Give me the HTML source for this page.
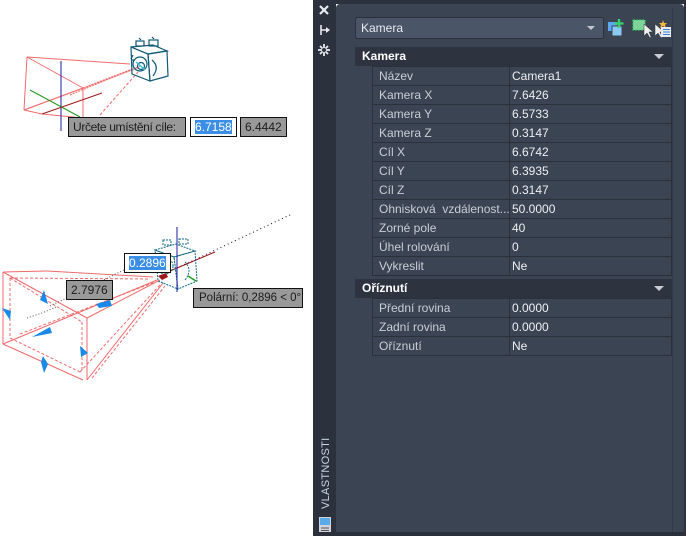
<!DOCTYPE html>
<html><head><meta charset="utf-8"><style>
html,body{margin:0;padding:0;}
body{width:686px;height:536px;position:relative;overflow:hidden;background:#fff;font-family:"Liberation Sans",sans-serif;}
.abs{position:absolute;}
.strip{left:313px;top:0;width:23px;height:536px;background:#2c323d;}
.topbar{left:313px;top:0;width:373px;height:4px;background:#2c323d;}
.main{left:336px;top:4px;width:348px;height:528px;background:#3b4453;border-radius:4px 4px 0 0;}
.bottombar{left:313px;top:532px;width:373px;height:4px;background:#2a3039;}
.rightbar{left:684px;top:0;width:2px;height:536px;background:#2c323d;}
.vsep{left:672px;top:8px;width:1px;height:524px;background:#323a47;}
.dd{left:355px;top:17px;width:242px;height:20px;background:#4a5567;border:1px solid #2b313b;border-radius:2px;color:#e6e9ee;font-size:12px;line-height:20px;padding-left:5px;box-sizing:content-box;}
.hdr{left:355px;width:317px;height:19px;background:#2e343f;color:#fff;font-weight:bold;font-size:12px;line-height:19px;}
.hdr span{position:absolute;left:7px;}
.tri{position:absolute;right:8px;top:7px;width:0;height:0;border-left:5px solid transparent;border-right:5px solid transparent;border-top:5px solid #c7ccd4;}
.row{left:372px;width:300px;height:19px;border-top:1px solid #2b313b;box-sizing:border-box;font-size:12px;color:#dfe3e9;line-height:18px;}
.row .n{position:absolute;left:7px;top:0;color:#c9ced6;white-space:nowrap;}
.row .v{position:absolute;left:140px;top:0;color:#eef0f3;}
.row .s{position:absolute;left:137px;top:-1px;width:1px;height:19px;background:#2b313b;}
.tip{background:#999;border:1px solid #111;font-size:12px;color:#1c1c1c;box-sizing:border-box;line-height:18px;white-space:nowrap;overflow:hidden;}
.inp{background:#fff;border:1px solid #111;font-size:12px;box-sizing:border-box;line-height:18px;white-space:nowrap;overflow:hidden;}
.sel{background:#3a8ee6;color:#fff;}
</style></head><body>

<svg class="abs" style="left:0;top:0" width="313" height="536" viewBox="0 0 313 536">
  <!-- top drawing -->
  <g stroke="#f26a6a" stroke-width="1" fill="none">
    <line x1="27" y1="57" x2="24" y2="110"/>
    <line x1="27" y1="57" x2="130" y2="64"/>
    <line x1="27" y1="57" x2="83" y2="88"/>
    <line x1="83" y1="88" x2="83" y2="120"/>
    <line x1="24" y1="110" x2="83" y2="88"/>
    <line x1="42" y1="114" x2="83" y2="118"/>
    <line x1="24" y1="110" x2="42" y2="114"/>
    <line x1="83" y1="88" x2="140" y2="66" stroke-dasharray="2 1"/>
    <line x1="70" y1="95" x2="140" y2="66" stroke-dasharray="2 1"/>
    <line x1="100" y1="115" x2="138" y2="72" stroke-dasharray="3 2"/>
    <line x1="24" y1="110" x2="138" y2="68" stroke-opacity="0.6"/>
  </g>
  <line x1="61" y1="61" x2="61" y2="131" stroke="#1a1aa0" stroke-width="1"/>
  <line x1="30" y1="90" x2="80" y2="117" stroke="#1d9a1d" stroke-width="1"/>
  <line x1="42" y1="114" x2="102" y2="93" stroke="#a01a1a" stroke-width="1"/>
  <g stroke="#0f5a78" stroke-width="1.2" fill="none">
    <polygon points="131,47 153,45 167,51 148,54"/>
    <polygon points="131,47 148,54 150,81 132,74"/>
    <polygon points="148,54 167,51 168,76 150,81"/>
    <circle cx="140" cy="64" r="7"/>
    <circle cx="141" cy="66" r="3.5"/>
    <path d="M152 60 q8 7 1 16"/>
    <rect x="136" y="41" width="8" height="5"/>
    <rect x="149" y="40" width="9" height="6"/>
    <path d="M139 38 l2 2 M152 37 l2 2 M133 55 l-2 4 M131 60 h4"/>
  </g>
  <line x1="136" y1="62" x2="145" y2="70" stroke="#40c0e0" stroke-width="1.5"/>

  <!-- bottom drawing -->
  <g stroke="#f26a6a" stroke-width="1" fill="none">
    <line x1="3" y1="272" x2="47" y2="271"/>
    <line x1="47" y1="271" x2="153" y2="277"/>
    <line x1="3" y1="272" x2="3" y2="344"/>
    <line x1="3" y1="344" x2="83" y2="380"/>
    <line x1="3" y1="272" x2="87" y2="318"/>
    <line x1="87" y1="318" x2="87" y2="380"/>
    <line x1="87" y1="318" x2="160" y2="280"/>
    <line x1="3" y1="344" x2="157" y2="280"/>
    <line x1="87" y1="380" x2="163" y2="283"/>
  </g>
  <g stroke="#f26a6a" stroke-width="1" fill="none" stroke-dasharray="3 2">
    <line x1="10" y1="278" x2="150" y2="279"/>
    <line x1="10" y1="278" x2="10" y2="338"/>
    <line x1="10" y1="338" x2="80" y2="372"/>
    <line x1="10" y1="278" x2="82" y2="322"/>
    <line x1="82" y1="322" x2="82" y2="372"/>
    <line x1="80" y1="372" x2="160" y2="285"/>
    <line x1="92" y1="378" x2="165" y2="286"/>
    <line x1="20" y1="334" x2="155" y2="282"/>
  </g>
  <polyline points="27,318 42,313 56,307" stroke="#555" stroke-width="1" fill="none" stroke-dasharray="1 2"/>
  <line x1="50" y1="306" x2="124" y2="270" stroke="#555" stroke-width="1" stroke-dasharray="1 2"/>
  <line x1="177" y1="268" x2="292" y2="214" stroke="#111" stroke-width="1" stroke-dasharray="1 3"/>
  <line x1="170" y1="271" x2="215" y2="252" stroke="#9a1010" stroke-width="1"/>
  <g stroke="#0f6a86" stroke-width="1" fill="none" stroke-dasharray="2 1">
    <polygon points="155,250 176,244 195,251 174,257"/>
    <polygon points="174,257 195,251 197,281 178,289"/>
    <polygon points="155,250 174,257 178,289 158,281"/>
    <circle cx="165" cy="266" r="8"/>
    <circle cx="166" cy="268" r="4"/>
    <path d="M185 262 q8 8 0 18"/>
    <rect x="163" y="240" width="8" height="5"/>
    <rect x="179" y="239" width="9" height="5"/>
  </g>
  <line x1="177" y1="227" x2="177" y2="292" stroke="#1a1aa0" stroke-width="1"/>
  <line x1="188" y1="276" x2="196" y2="281" stroke="#1da01d" stroke-width="1.5"/>
  <path d="M158 276 l8 -3 l2 4 l-6 3z" fill="#a01a1a"/>
  <g fill="#1b8ae6">
    <polygon points="44,290 48,304 40,300"/>
    <polygon points="2,308 11,311 10,320"/>
    <polygon points="32,337 50,327 52,333"/>
    <polygon points="80,346 88,353 81,357"/>
    <polygon points="43,356 48,364 44,373 41,362"/>
    <polygon points="96,304 110,300 112,306 99,308"/>
  </g>
</svg>

<!-- canvas tooltips -->
<div class="abs tip" style="left:68px;top:117px;width:118px;height:20px;padding-left:4px;font-size:12px;letter-spacing:-0.35px;">Určete umístění cíle:</div>
<div class="abs inp" style="left:190px;top:117px;width:47px;height:20px;padding-left:4px;"><span class="sel">6.7158</span></div>
<div class="abs tip" style="left:240px;top:117px;width:47px;height:20px;padding-left:4px;">6.4442</div>
<div class="abs inp" style="left:124px;top:253px;width:47px;height:20px;padding-left:4px;"><span class="sel">0.2896</span></div>
<div class="abs tip" style="left:66px;top:280px;width:47px;height:20px;padding-left:4px;">2.7976</div>
<div class="abs tip" style="left:193px;top:288px;width:110px;height:20px;padding-left:5px;font-size:11.5px;">Polární: 0,2896 &lt; 0°</div>

<!-- panel -->
<div class="abs strip"></div>
<div class="abs topbar"></div>
<div class="abs main"></div>
<div class="abs bottombar"></div>
<div class="abs rightbar"></div>
<div class="abs vsep"></div>

<!-- strip icons -->
<svg class="abs" style="left:313px;top:0" width="23" height="536">
  <g stroke="#e8ebef" stroke-width="2.2"><line x1="7" y1="6" x2="15" y2="14"/><line x1="15" y1="6" x2="7" y2="14"/></g>
  <g stroke="#e8ebef" stroke-width="1.6" fill="none"><path d="M8 25 v10 M8 30 h7"/></g>
  <polygon points="13,27 17,30 13,33" fill="#e8ebef"/>
  <g stroke="#e8ebef" stroke-width="1.8"><line x1="11" y1="44" x2="11" y2="56"/><line x1="5" y1="50" x2="17" y2="50"/><line x1="7" y1="46" x2="15" y2="54"/><line x1="15" y1="46" x2="7" y2="54"/></g>
  <circle cx="11" cy="50" r="2" fill="#2c323d"/>
  <text transform="translate(16,509) rotate(-90)" font-family="Liberation Sans, sans-serif" font-size="11" fill="#c9d6e6" letter-spacing="0.3">VLASTNOSTI</text>
  <rect x="6" y="517" width="12" height="15" fill="#d0d4da"/>
  <rect x="7" y="518" width="10" height="7" fill="#5aaae8"/>
  <g stroke="#555" stroke-width="1"><line x1="8" y1="528" x2="16" y2="528"/><line x1="8" y1="530.5" x2="16" y2="530.5"/></g>
</svg>

<div class="abs dd">Kamera</div>
<div class="abs" style="left:587px;top:26px;width:0;height:0;border-left:4px solid transparent;border-right:4px solid transparent;border-top:4px solid #c3c8d0;"></div>

<!-- toolbar icons -->
<svg class="abs" style="left:604px;top:14px" width="70" height="26">
  <rect x="4" y="8" width="9" height="9" fill="#5aa9ee"/>
  <rect x="8" y="12" width="10" height="10" fill="#8cc8f4" stroke="#3b4453" stroke-width="1"/>
  <g stroke="#3ecf6a" stroke-width="2.4"><line x1="15" y1="5" x2="15" y2="14"/><line x1="10.5" y1="9.5" x2="19.5" y2="9.5"/></g>
  <rect x="29" y="6" width="12" height="10" fill="#7ed49a" stroke="#3ecf6a" stroke-dasharray="2 1"/>
  <polygon points="40,10 40,22 43,19 46,24 47,23 45,18 49,18" fill="#f0f0f0" stroke="#333" stroke-width="0.5"/>
  <polygon points="51,10 51,22 54,19 57,24 58,23 56,18 60,18" fill="#f0f0f0" stroke="#333" stroke-width="0.5"/>
  <polygon points="59,6 60,9 63,9 61,11 62,14 59,12 56,14 57,11 55,9 58,9" fill="#f4b840"/>
  <rect x="57" y="13" width="10" height="10" fill="#e8ecf2"/>
  <g stroke="#3a7fd0" stroke-width="1"><line x1="59" y1="15.5" x2="66" y2="15.5"/><line x1="59" y1="18" x2="66" y2="18"/><line x1="59" y1="20.5" x2="66" y2="20.5"/></g>
</svg>

<!-- Kamera header -->
<div class="abs hdr" style="top:47px;"><span>Kamera</span><div class="tri"></div></div>
<div class="abs" style="left:372px;top:66px;width:1px;height:210px;background:#2b313b;"></div>
<div class="abs" style="left:671px;top:66px;width:1px;height:210px;background:#2b313b;"></div>
<div class="abs row" style="top:66px;"><span class="n">Název</span><div class="s"></div><span class="v">Camera1</span></div>
<div class="abs row" style="top:85px;"><span class="n">Kamera X</span><div class="s"></div><span class="v">7.6426</span></div>
<div class="abs row" style="top:104px;"><span class="n">Kamera Y</span><div class="s"></div><span class="v">6.5733</span></div>
<div class="abs row" style="top:123px;"><span class="n">Kamera Z</span><div class="s"></div><span class="v">0.3147</span></div>
<div class="abs row" style="top:142px;"><span class="n">Cíl X</span><div class="s"></div><span class="v">6.6742</span></div>
<div class="abs row" style="top:161px;"><span class="n">Cíl Y</span><div class="s"></div><span class="v">6.3935</span></div>
<div class="abs row" style="top:180px;"><span class="n">Cíl Z</span><div class="s"></div><span class="v">0.3147</span></div>
<div class="abs row" style="top:199px;"><span class="n">Ohnisková&nbsp; vzdálenost...</span><div class="s"></div><span class="v">50.0000</span></div>
<div class="abs row" style="top:218px;"><span class="n">Zorné pole</span><div class="s"></div><span class="v">40</span></div>
<div class="abs row" style="top:237px;"><span class="n">Úhel rolování</span><div class="s"></div><span class="v">0</span></div>
<div class="abs row" style="top:256px;"><span class="n">Vykreslit</span><div class="s"></div><span class="v">Ne</span></div>
<div class="abs" style="left:372px;top:275px;width:300px;height:1px;background:#2b313b;"></div>

<!-- Oříznutí header -->
<div class="abs hdr" style="top:279px;"><span>Oříznutí</span><div class="tri"></div></div>
<div class="abs" style="left:372px;top:298px;width:1px;height:58px;background:#2b313b;"></div>
<div class="abs" style="left:671px;top:298px;width:1px;height:58px;background:#2b313b;"></div>
<div class="abs row" style="top:298px;"><span class="n">Přední rovina</span><div class="s"></div><span class="v">0.0000</span></div>
<div class="abs row" style="top:317px;"><span class="n">Zadní rovina</span><div class="s"></div><span class="v">0.0000</span></div>
<div class="abs row" style="top:336px;"><span class="n">Oříznutí</span><div class="s"></div><span class="v">Ne</span></div>
<div class="abs" style="left:372px;top:355px;width:300px;height:1px;background:#2b313b;"></div>

</body></html>
